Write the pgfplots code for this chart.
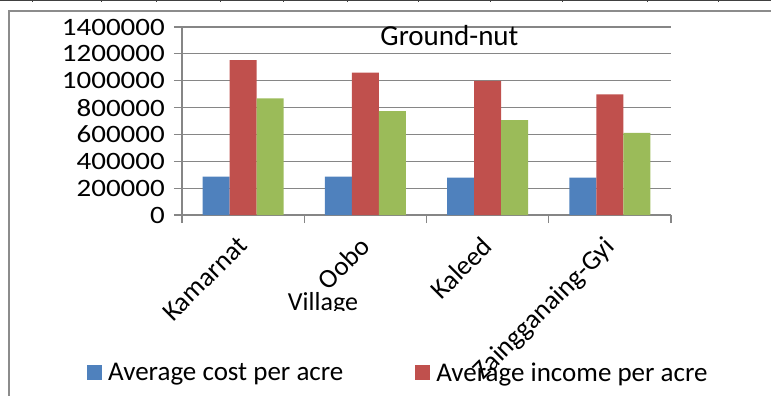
\documentclass[border=0pt]{standalone}
\usepackage{fontspec}
\setmainfont{Carlito}
\newfontfamily\tickfont{Carlito}[FakeStretch=1.16]
\usepackage{pgfplots}
\pgfplotsset{compat=1.18}
\definecolor{cblue}{RGB}{79,129,189}
\definecolor{cred}{RGB}{192,80,77}
\definecolor{cgreen}{RGB}{155,187,89}
\definecolor{gridgray}{RGB}{134,134,134}
\definecolor{framegray}{RGB}{140,140,140}
\begin{document}
\begin{tikzpicture}
\begin{axis}[
  name=ax,
  at={(0pt,0pt)}, anchor=south west,
  scale only axis, width=489pt, height=188pt,
  xmin=-0.5, xmax=3.5, ymin=0, ymax=1400000,
  ybar=0pt, bar width=27pt,
  axis lines*=left,
  axis line style={draw=gridgray, line width=1.2pt},
  ytick distance=200000,
  scaled y ticks=false,
  ymajorgrids, grid style={draw=gridgray, line width=1.2pt},
  tick align=outside, major tick length=8pt,
  y tick style={draw=gridgray, line width=1.2pt},
  yticklabel style={/pgf/number format/fixed, /pgf/number format/1000 sep={}, /pgf/number format/assume math mode=true, font=\tickfont\fontsize{25}{29}\selectfont, inner sep=0pt, xshift=-9pt},
  xtick={0,1,2,3},
  xticklabels={Kamarnat,Oobo,Kaleed,Zaingganaing-Gyi},
  x tick style={draw=none},
  xticklabel style={xshift=-7pt, yshift=-12pt, rotate=45, anchor=north east, inner sep=0pt, font=\fontsize{27}{31}\selectfont},
  extra x ticks={-0.5,0.5,1.5,2.5,3.5},
  extra x tick labels={},
  extra x tick style={x tick style={draw=gridgray, line width=1.2pt}, xmajorgrids=false},
  title={Ground-nut},
  title style={at={(axis description cs:0.547,0.925)}, anchor=center, font=\fontsize{29}{34}\selectfont, inner sep=0pt},
  legend columns=3,
  legend style={at={(axis description cs:-0.1943,-0.8378)}, anchor=west, draw=none, fill=none, inner sep=0pt, font=\fontsize{27}{31}\selectfont,
    /tikz/every even column/.append style={column sep=72pt},
    /tikz/every odd column/.append style={column sep=6pt},
    nodes={inner sep=0pt}},
  legend image code/.code={\fill[#1] (0pt,-7.5pt) rectangle (15pt,7.5pt);},
]
\addplot[fill=cblue, draw=none] coordinates {(0,285000) (1,285000) (2,278000) (3,278000)};
\addplot[fill=cred, draw=none] coordinates {(0,1154000) (1,1060000) (2,998000) (3,899000)};
\addplot[fill=cgreen, draw=none] coordinates {(0,869000) (1,774000) (2,707000) (3,611000)};
\legend{Average cost per acre, Average income per acre, Net income per acre}
\end{axis}
\begin{scope}[x=1pt,y=1pt,shift={(-182pt,-181pt)}]
\draw[line width=1.5pt, color=black!75] (0,395.3) -- (771,395.3);
\foreach \t in {33,102,157,220,283,347,418,490,562,647,718}{
  \draw[line width=1pt, color=black!75] (\t,396) -- (\t,393.5);
}
\draw[line width=1.6pt, color=framegray] (771,385) -- (9,385) -- (9,0);
\begin{scope}
\clip (250,86) rectangle (400,130);
\node[anchor=base, inner sep=0pt, font=\fontsize{26}{30}\selectfont] at (323,85.5) {Village};
\end{scope}
\pgfresetboundingbox
\path (0,0) rectangle (771,396);
\end{scope}
\end{tikzpicture}
\end{document}
